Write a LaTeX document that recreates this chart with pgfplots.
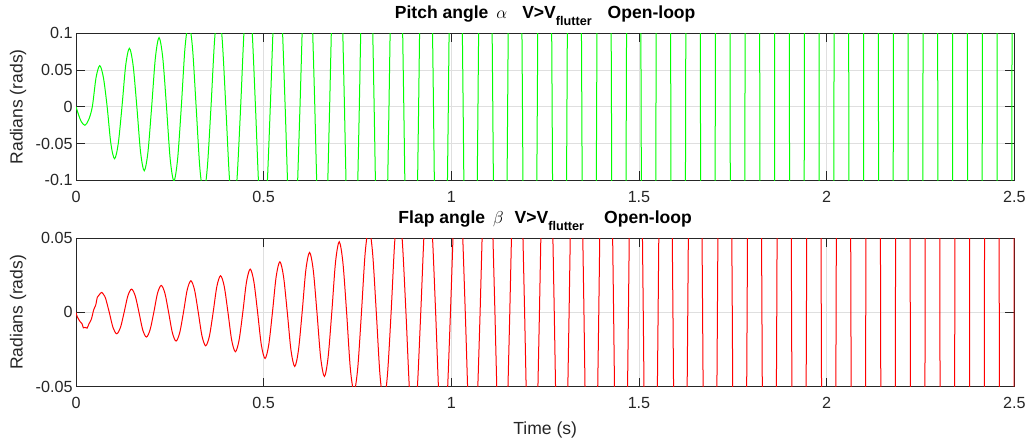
\documentclass[border=0pt]{standalone}
\usepackage{fontspec}
\setmainfont{Liberation Sans}
\usepackage{pgfplots}
\pgfplotsset{compat=1.18}

\definecolor{axgray}{RGB}{38,38,38}
\definecolor{gridgray}{RGB}{223,223,223}
\definecolor{pitchgreen}{RGB}{0,255,0}
\definecolor{flapred}{RGB}{255,0,0}

\pgfplotsset{
  flutterax/.style={
    scale only axis,
    width=938.3bp,
    xmin=0, xmax=2.5,
    xtick={0,0.5,1,1.5,2,2.5},
    xticklabels={0,0.5,1,1.5,2,2.5},
    scaled x ticks=false, scaled y ticks=false,
    tick align=inside,
    major tick length=9bp,
    xmajorgrids, ymajorgrids,
    grid style={gridgray, line width=0.8bp},
    axis line style={axgray, line width=0.8bp},
    tick style={axgray, line width=0.8bp},
    tick label style={font=\fontsize{16.2}{19}\selectfont, text=axgray},
    xticklabel style={yshift=-7.5bp},
    ylabel style={font=\fontsize{17.6}{21}\selectfont, text=axgray,
      at={(axis description cs:-0.0618,0.5)}, anchor=center},
    title style={font=\bfseries\fontsize{17.6}{21}\selectfont,
      at={(axis description cs:0.5,1)}, anchor=base, yshift=9.2bp},
    ylabel={Radians (rads)},
  },
  pitch/.style={pitchgreen, line width=1bp},
  flap/.style={flapred, line width=1bp},
}

\begin{document}
\begin{tikzpicture}
\useasboundingbox (0,0) rectangle (1027bp,443bp);

% ---------------- pitch angle ----------------
\begin{axis}[flutterax,
  at={(76bp,262.7bp)}, anchor=south west,
  height=147bp,
  ymin=-0.1, ymax=0.1,
  ytick={-0.1,-0.05,0,0.05,0.1},
  yticklabels={-0.1,-0.05,0,0.05,0.1},
  title={Pitch angle\hspace{8bp}$\alpha$\hspace{15bp}V>V\raisebox{-7bp}{\fontsize{12.7}{13}\selectfont flutter}\hspace{16bp}Open-loop},
]
% growing oscillation, sampled every quarter of a half-cycle
\addplot[pitch, smooth] coordinates {
(0,0) (0.0069,-0.0110) (0.0138,-0.0200) (0.0237,-0.0253) (0.0336,-0.0179) (0.0435,0)
(0.0534,0.0395) (0.0633,0.0559) (0.0731,0.0395) (0.0830,0)
(0.0929,-0.0501) (0.1028,-0.0708) (0.1126,-0.0501) (0.1225,0)
(0.1324,0.0562) (0.1423,0.0795) (0.1522,0.0562) (0.1621,0)
(0.1720,-0.0617) (0.1818,-0.0872) (0.1917,-0.0617) (0.2016,0)
(0.2115,0.0665) (0.2213,0.0940) (0.2312,0.0665) (0.2411,0)
(0.2510,-0.0714) (0.2609,-0.1010) (0.2707,-0.0714) (0.2806,0)
(0.2905,0.0806) (0.3004,0.1140) (0.3103,0.0806) (0.3201,0)
(0.3300,-0.0834) (0.3399,-0.1180) (0.3498,-0.0834) (0.3597,0)
(0.3696,0.0933) (0.3794,0.1320) (0.3893,0.0933) (0.3992,0)
(0.4091,-0.0997) (0.4190,-0.1410) (0.4288,-0.0997) (0.4387,0)
(0.4486,0.1114) (0.4585,0.1575) (0.4684,0.1114) (0.4782,0)
(0.4881,-0.1223) (0.4980,-0.1730) (0.5079,-0.1223) (0.5177,0)
(0.5276,0.1372) (0.5375,0.1940) (0.5474,0.1372) (0.5573,0)
(0.5671,-0.1506) (0.5770,-0.2130) (0.5869,-0.1506) (0.5968,0)
(0.6067,0.1662) (0.6165,0.2350) (0.6264,0.1662) (0.6363,0)
};
% diverging part: zero crossings and (far out of range) extremes
\addplot[pitch] coordinates {
(0.6363,0)
(0.6561,-0.406) (0.6758,0) (0.6956,0.447) (0.7153,0)
(0.7351,-0.491) (0.7549,0) (0.7746,0.541) (0.7944,0)
(0.8141,-0.595) (0.8339,0) (0.8537,0.654) (0.8734,0)
(0.8932,-0.719) (0.9129,0) (0.9327,0.791) (0.9525,0)
(0.9722,-0.871) (0.9920,0) (1.0117,0.958) (1.0315,0)
(1.0513,-1.053) (1.0710,0) (1.0908,1.159) (1.1105,0)
(1.1303,-1.274) (1.1501,0) (1.1698,1.402) (1.1896,0)
(1.2093,-1.542) (1.2291,0) (1.2489,1.696) (1.2686,0)
(1.2884,-1.866) (1.3081,0) (1.3279,2.05) (1.3477,0)
(1.3674,-2.26) (1.3872,0) (1.4069,2.48) (1.4267,0)
(1.4465,-2.73) (1.4662,0) (1.4860,3.00) (1.5057,0)
(1.5255,-3.30) (1.5453,0) (1.5650,3.63) (1.5848,0)
(1.6045,-4.00) (1.6243,0) (1.6441,4.40) (1.6638,0)
(1.6836,-4.84) (1.7033,0) (1.7231,5.32) (1.7429,0)
(1.7626,-5.85) (1.7824,0) (1.8021,6.4) (1.8219,0)
(1.8417,-7.0) (1.8614,0) (1.8812,7.7) (1.9009,0)
(1.9207,-8) (1.9405,0) (1.9602,8) (1.9800,0)
(1.9997,-8) (2.0195,0) (2.0393,8) (2.0590,0)
(2.0788,-8) (2.0985,0) (2.1183,8) (2.1381,0)
(2.1578,-8) (2.1776,0) (2.1973,8) (2.2171,0)
(2.2369,-8) (2.2566,0) (2.2764,8) (2.2961,0)
(2.3159,-8) (2.3357,0) (2.3554,8) (2.3752,0)
(2.3949,-8) (2.4147,0) (2.4345,8) (2.4542,0)
(2.4740,-8) (2.4937,0) (2.5135,8)
};
\end{axis}

% ---------------- flap angle ----------------
\begin{axis}[flutterax,
  at={(76bp,56.3bp)}, anchor=south west,
  height=148.4bp,
  ymin=-0.05, ymax=0.05,
  ytick={-0.05,0,0.05},
  yticklabels={-0.05,0,0.05},
  title={Flap angle\hspace{8bp}$\beta$\hspace{11bp}V>V\raisebox{-7bp}{\fontsize{12.7}{13}\selectfont flutter}\hspace{20bp}Open-loop},
  xlabel={Time (s)},
  xlabel style={font=\fontsize{17.6}{21}\selectfont, text=axgray,
    at={(axis description cs:0.5,0)}, anchor=base, yshift=-47.6bp},
]
\addplot[flap, smooth] coordinates {
(0,0) (0.0035,-0.0030) (0.0107,-0.0061) (0.0160,-0.0076) (0.0196,-0.0104)
(0.0240,-0.0101) (0.0294,-0.0106) (0.0347,-0.0076) (0.0410,-0.0045)
(0.0472,0.0018) (0.0525,0.0049) (0.0570,0.0103) (0.0632,0.0123)
(0.0685,0.0135) (0.0738,0.0119) (0.0788,0.0095) (0.0887,0)
(0.0986,-0.0102) (0.1085,-0.0144) (0.1184,-0.0102) (0.1282,0)
(0.1381,0.0111) (0.1480,0.0157) (0.1579,0.0111) (0.1678,0)
(0.1777,-0.0117) (0.1876,-0.0166) (0.1974,-0.0117) (0.2073,0)
(0.2172,0.0129) (0.2271,0.0182) (0.2369,0.0129) (0.2468,0)
(0.2567,-0.0136) (0.2666,-0.0193) (0.2764,-0.0136) (0.2863,0)
(0.2962,0.0151) (0.3061,0.0213) (0.3159,0.0151) (0.3258,0)
(0.3357,-0.0159) (0.3456,-0.0225) (0.3555,-0.0159) (0.3654,0)
(0.3753,0.0175) (0.3852,0.0247) (0.3950,0.0175) (0.4049,0)
(0.4148,-0.0187) (0.4247,-0.0265) (0.4345,-0.0187) (0.4444,0)
(0.4543,0.0206) (0.4642,0.0292) (0.4740,0.0206) (0.4839,0)
(0.4938,-0.0219) (0.5037,-0.0310) (0.5135,-0.0219) (0.5234,0)
(0.5333,0.0241) (0.5432,0.0341) (0.5530,0.0241) (0.5630,0)
(0.5729,-0.0257) (0.5828,-0.0364) (0.5926,-0.0257) (0.6025,0)
(0.6124,0.0286) (0.6223,0.0404) (0.6321,0.0286) (0.6420,0)
(0.6519,-0.0305) (0.6618,-0.0431) (0.6716,-0.0305) (0.6815,0)
(0.6914,0.0337) (0.7013,0.0476) (0.7111,0.0337) (0.7210,0)
(0.7309,-0.0377) (0.7408,-0.0533) (0.7506,-0.0377) (0.7606,0)
(0.7705,0.0402) (0.7804,0.0569) (0.7902,0.0402) (0.8001,0)
(0.8100,-0.0424) (0.8199,-0.0600) (0.8297,-0.0424) (0.8396,0)
(0.8495,0.0488) (0.8594,0.0690) (0.8692,0.0488) (0.8791,0)
(0.8890,-0.0544) (0.8989,-0.0770) (0.9087,-0.0544) (0.9186,0)
(0.9285,0.0587) (0.9384,0.0830) (0.9482,0.0587) (0.9582,0)
(0.9681,-0.0640) (0.9780,-0.0905) (0.9878,-0.0640) (0.9977,0)
(1.0076,0.0700) (1.0175,0.0990) (1.0273,0.0700) (1.0372,0)
(1.0471,-0.0767) (1.0570,-0.1085) (1.0668,-0.0767) (1.0767,0)
};
\addplot[flap] coordinates {
(1.0767,0)
(1.0965,0.187) (1.1162,0) (1.1360,-0.204) (1.1558,0)
(1.1755,0.224) (1.1953,0) (1.2150,-0.245) (1.2348,0)
(1.2546,0.268) (1.2743,0) (1.2941,-0.294) (1.3138,0)
(1.3336,0.322) (1.3534,0) (1.3731,-0.352) (1.3929,0)
(1.4126,0.386) (1.4324,0) (1.4522,-0.422) (1.4719,0)
(1.4917,0.462) (1.5114,0) (1.5312,-0.506) (1.5510,0)
(1.5707,0.555) (1.5905,0) (1.6102,-0.607) (1.6300,0)
(1.6498,0.665) (1.6695,0) (1.6893,-0.728) (1.7090,0)
(1.7288,0.797) (1.7486,0) (1.7683,-0.873) (1.7881,0)
(1.8078,0.956) (1.8276,0) (1.8474,-1.047) (1.8671,0)
(1.8869,1.146) (1.9066,0) (1.9264,-1.255) (1.9462,0)
(1.9659,1.374) (1.9857,0) (2.0054,-1.505) (2.0252,0)
(2.0450,1.648) (2.0647,0) (2.0845,-1.804) (2.1042,0)
(2.1240,1.976) (2.1438,0) (2.1635,-2.163) (2.1833,0)
(2.2030,2.369) (2.2228,0) (2.2426,-2.594) (2.2623,0)
(2.2821,2.840) (2.3018,0) (2.3216,-3.110) (2.3414,0)
(2.3611,3.405) (2.3809,0) (2.4006,-3.729) (2.4204,0)
(2.4402,4.083) (2.4599,0) (2.4797,-4.471) (2.4994,0)
(2.5192,4.896)
};
\end{axis}
\end{tikzpicture}
\end{document}
